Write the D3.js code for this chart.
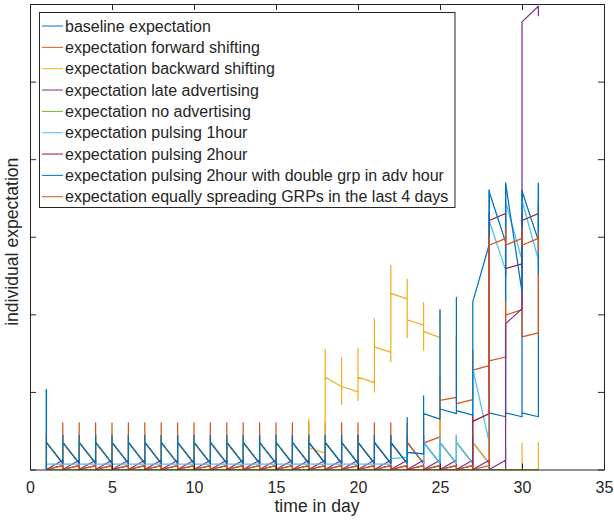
<!DOCTYPE html>
<html>
<head>
<meta charset="utf-8">
<script src="https://cdn.jsdelivr.net/npm/d3@7"></script>
<style>
  body { margin: 0; background: #fff; }
  text { font-family: "Liberation Sans", Arial, sans-serif; fill: #262626; }
</style>
</head>
<body>
<div id="chart"></div>
<script>
const days = [1, 2, 3, 4, 5, 6, 7, 8, 9, 10, 11, 12, 13, 14, 15, 16,
              17, 18, 19, 20, 21, 22, 23, 24, 25, 26, 27, 28, 29, 30, 31];
const xTickValues = [0, 5, 10, 15, 20, 25, 30, 35];
const yTickValues = [0, 1, 2, 3, 4, 5, 6];

const seriesLabels = [
  "baseline expectation",
  "expectation forward shifting",
  "expectation backward shifting",
  "expectation late advertising",
  "expectation no advertising",
  "expectation pulsing 1hour",
  "expectation pulsing 2hour",
  "expectation pulsing 2hour with double grp in adv hour",
  "expectation equally spreading GRPs in the last 4 days"
];
const seriesColors = ["#0072BD", "#D95319", "#EDB120", "#7E2F8E", "#77AC30",
                      "#4DBEEE", "#A2142F", "#0072BD", "#D95319"];

// one row per day: [first hour, lowest, highest, last hour]
const R = [0.08, 0.08, 0.44, 0.35];   // usual daily spot
const F = [0.08, 0.08, 0.6, 0.35];
const P = [0.12, 0, 0.12, 0];
const Q = [0.05, 0, 0.05, 0];
const L = [0.07, 0.07, 0.07, 0.07];
const Z = [0, 0, 0, 0];

const baseline = [
  [0, 0, 1.03, 0.35],
  R, R, R, R, R, R, R, R, R, R, R, R, R,
  R, R, R, R, R, R, R, R, R, R, R, R, R,
  [0.08, 0.08, 3.6, 0.73], [0.68, 0.68, 3.69, 0.73],
  [0.68, 0.68, 3.6, 0.73], [0.68, 0.68, 3.69, 0.68]
];
const forwardShift = [
  [0, 0, 0.44, 0.35],
  F, F, F, F, F, F, F, F, F, F, F,
  F, F, F, F, F, F, F, F, F, F, F,
  [0.08, 0.08, 0.66, 0.34], [0.42, 0.42, 1.2, 0.89], [0.93, 0.85, 1.71, 0.85],
  [0.9, 0.9, 1.54, 1.28], [1.34, 1.0, 2.9, 1.4], [1.45, 1.45, 2.18, 1.99],
  [2.06, 1.71, 2.3, 1.71], [1.76, 1.76, 2.52, 1.9]
];
const backwardShift = [
  [0, 0, 0.44, 0.35],
  R, R, R, R, R, R, R, R, R, R, R, R, R, R, R,
  [0.08, 0.08, 0.65, 0.28], [0.21, 0.21, 1.55, 1.19], [1.07, 0.84, 1.44, 1.07],
  [1.0, 0.89, 1.56, 1.19], [1.12, 1.0, 1.94, 1.58], [1.51, 1.39, 2.63, 2.27],
  [2.2, 1.7, 2.45, 1.93], [1.86, 1.54, 2.15, 1.78], [1.7, 0.35, 2.05, 0.35],
  R, R,
  [0.08, 0, 0.35, 0], [0, 0, 0.25, 0], [0, 0, 0.34, 0], [0, 0, 0.35, 0]
];
const lateAdvertising = [
  Z,
  P, P, P, P, P, P, P, P, P, P, P, P, P, P,
  P, P, P, P, P, P, P, P, P, P, P, P, P,
  [0.12, 0, 1.88, 1.88], [2.07, 2.07, 5.77, 5.77], [5.97, 5.85, 5.97, 5.85]
];
const noAdvertising = [
  Z, Z, Z, Z, Z, Z, Z, Z, Z, Z, Z, Z, Z, Z, Z, Z,
  Z, Z, Z, Z, Z, Z, Z, Z, Z, Z, Z, Z, Z, Z, Z
];
const pulsing1h = [
  [0, 0, 0.07, 0.07],
  L, L, L, L, L, L, L, L, L, L, L, L, L, L, L, L, L, L, L, L,
  [0.07, 0.07, 0.07, 0.14], [0.16, 0.07, 0.3, 0.22], [0.2, 0.08, 0.44, 0.35],
  R, R,
  [0.08, 0.08, 1.32, 1.3], [0.35, 0.35, 3.3, 3.21], [2.57, 2.5, 3.5, 3.45],
  [2.7, 2.6, 3.5, 3.47], [2.7, 2.6, 3.5, 2.7]
];
const pulsing2h = [
  Z,
  Q, Q, Q, Q, Q, Q, Q, Q, Q, Q, Q, Q, Q,
  Q, Q, Q, Q, Q, Q, Q, Q, Q, Q, Q, Q,
  [0.05, 0, 0.7, 0.62], [0.72, 0.72, 3.3, 3.21], [3.3, 2.5, 3.4, 2.59],
  [2.65, 2.6, 3.3, 3.21], [3.3, 3.1, 3.4, 3.2]
];
const pulsing2hDouble = [
  [0, 0, 1.03, 0.35],
  R, R, R, R, R, R, R, R, R, R, R,
  R, R, R, R, R, R, R, R, R, R,
  [0.08, 0.08, 0.67, 0.22], [0.2, 0.2, 0.95, 0.72], [0.65, 0.65, 2.06, 0.78],
  [0.72, 0.72, 2.22, 0.76], [0.7, 0.7, 2.16, 2.16], [2.9, 2.9, 3.6, 3.58],
  [2.93, 2.18, 3.69, 3.69], [2.29, 2.29, 3.6, 3.59], [2.95, 2.52, 3.69, 3.69]
];
const lastFourDays = [
  Z,
  Q, Q, Q, Q, Q, Q, Q, Q, Q, Q, Q, Q, Q,
  Q, Q, Q, Q, Q, Q, Q, Q, Q, Q, Q, Q, Q,
  [0.05, 0.05, 3.0, 2.89], [2.98, 2.89, 3.1, 2.89],
  [2.98, 2.89, 3.1, 2.89], [2.98, 2.8, 3.05, 2.9]
];

const allSeries = [baseline, forwardShift, backwardShift, lateAdvertising, noAdvertising,
                   pulsing1h, pulsing2h, pulsing2hDouble, lastFourDays];

function init() {
    const width = 614, height = 520;
    const left = 30, right = 604, top = 4, bottom = 469.5;

    const svg = d3.select("#chart")
                  .append("svg")
                  .attr("width", width)
                  .attr("height", height);

    const x = d3.scaleLinear().domain([0, 35]).range([left, right]);
    const y = d3.scaleLinear().domain([0, 6]).range([bottom, top]);

    // every hour of a day sits on the same x, so each day is a vertical run
    const line = d3.line()
                   .x(p => x(p[0]))
                   .y(p => y(p[1]));

    allSeries.forEach((rows, k) => {
        const pts = days.flatMap((d, i) => rows[i].map(v => [d, v]));
        svg.append("path")
           .attr("d", line(pts))
           .attr("fill", "none")
           .attr("stroke", seriesColors[k])
           .attr("stroke-width", 1.25)
           .attr("stroke-linejoin", "round");
    });

    // axes box, ticks pointing inwards
    const axisStyle = g => {
        g.selectAll("path, line").attr("stroke", "#262626");
        g.selectAll("text").attr("fill", "#262626")
         .style("font-family", '"Liberation Sans", Arial, sans-serif')
         .style("font-size", "16px");
    };

    svg.append("g")
       .attr("transform", `translate(0,${bottom})`)
       .call(d3.axisBottom(x).tickValues(xTickValues).tickSizeInner(-6).tickSizeOuter(0).tickPadding(12))
       .call(axisStyle);
    svg.append("g")
       .attr("transform", `translate(0,${top})`)
       .call(d3.axisTop(x).tickValues(xTickValues).tickSizeInner(-6).tickSizeOuter(0).tickFormat(""))
       .call(axisStyle);
    svg.append("g")
       .attr("transform", `translate(${left},0)`)
       .call(d3.axisLeft(y).tickValues(yTickValues).tickSizeInner(-6).tickSizeOuter(0).tickFormat(""))
       .call(axisStyle);
    svg.append("g")
       .attr("transform", `translate(${right},0)`)
       .call(d3.axisRight(y).tickValues(yTickValues).tickSizeInner(-6).tickSizeOuter(0).tickFormat(""))
       .call(axisStyle);

    svg.append("text")
       .attr("x", (left + right) / 2)
       .attr("y", 512)
       .attr("text-anchor", "middle")
       .style("font-size", "17.6px")
       .text("time in day");

    svg.append("text")
       .attr("transform", `translate(18,${(top + bottom) / 2 + 5}) rotate(-90)`)
       .attr("text-anchor", "middle")
       .style("font-size", "17.6px")
       .text("individual expectation");

    // legend
    const lg = svg.append("g");
    lg.append("rect")
      .attr("x", 39.5).attr("y", 12.5)
      .attr("width", 415.5).attr("height", 195)
      .attr("fill", "#fff")
      .attr("stroke", "#262626")
      .attr("stroke-width", 1);

    seriesLabels.forEach((name, k) => {
        const cy = 26 + k * 21.34;
        lg.append("line")
          .attr("x1", 42).attr("x2", 63)
          .attr("y1", cy).attr("y2", cy)
          .attr("stroke", seriesColors[k])
          .attr("stroke-width", 1);
        lg.append("text")
          .attr("x", 65)
          .attr("y", cy)
          .attr("dy", "0.36em")
          .style("font-size", "16px")
          .text(name);
    });
}

window.onload = init;
</script>
</body>
</html>
